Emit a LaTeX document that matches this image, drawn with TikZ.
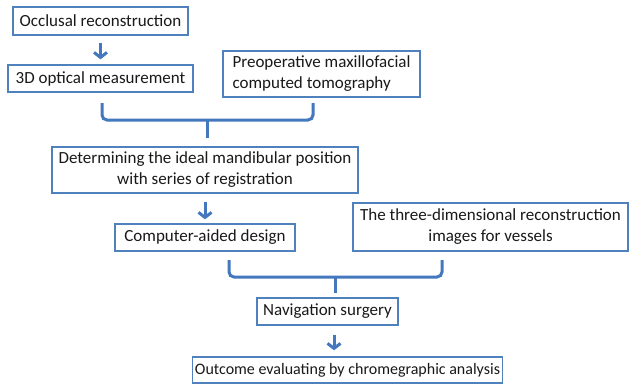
\documentclass[tikz,border=0pt]{standalone}
\usepackage{fontspec}
\setmainfont{Carlito}
\usetikzlibrary{arrows.meta}
\definecolor{boxblue}{RGB}{79,129,189}
\definecolor{arrblue}{RGB}{68,120,190}
\tikzset{
  stepbox/.style={draw=boxblue, line width=1.4pt, fill=white, inner sep=2pt,
    font=\fontsize{17}{21}\selectfont, text=black!90},
  arr/.style={draw=arrblue, line width=3pt, -{Straight Barb[length=5pt,width=13pt]}},
  brace/.style={draw=arrblue, line width=3pt, rounded corners=5pt}
}
\begin{document}
\begin{tikzpicture}[x=1pt,y=-1pt]
\useasboundingbox[fill=white] (0,0) rectangle (629,383);
\node[stepbox, minimum width=175pt, minimum height=28pt] (occl) at (100.5,21) {Occlusal reconstruction};
\node[stepbox, minimum width=185pt, minimum height=27pt] (optm) at (100.5,78.5) {3D optical measurement};
\node[stepbox, minimum width=197pt, minimum height=46pt, align=left] (preop) at (321.5,74) {Preoperative maxillofacial\\computed tomography};
\node[stepbox, minimum width=306pt, minimum height=46pt, align=center] (ideal) at (205,170) {Determining the ideal mandibular position\\with series of registration};
\node[stepbox, minimum width=180pt, minimum height=27pt] (cad) at (205,237.5) {Computer-aided design};
\node[stepbox, minimum width=275pt, minimum height=48pt, align=center] (vess) at (490.5,227) {The three-dimensional reconstruction\\images for vessels};
\node[stepbox, minimum width=141pt, minimum height=27pt] (nav) at (327.5,311.5) {Navigation surgery};
\node[stepbox, minimum width=310pt, minimum height=26pt, inner xsep=0pt,
  font=\fontsize{16}{20}\selectfont] (outc) at (347.5,370) {Outcome evaluating by chromegraphic analysis};
\coordinate (b1l) at (102,103); \coordinate (b1r) at (313,103);
\coordinate (b1m) at (207,120); \coordinate (b1e) at (207,138);
\coordinate (b2l) at (229,260); \coordinate (b2r) at (442,260);
\coordinate (b2m) at (335,277); \coordinate (b2e) at (335,293);
\draw[arr, shorten <=7pt, shorten >=5pt] (occl) -- (optm);
\draw[brace] (b1l) |- (b1m) -| (b1r);
\draw[brace] (b1m) -- (b1e);
\draw[arr, shorten <=8pt, shorten >=4pt] (ideal) -- (cad);
\draw[brace] (b2l) |- (b2m) -| (b2r);
\draw[brace] (b2m) -- (b2e);
\draw[arr, shorten <=9pt, shorten >=6pt] ([xshift=6.5pt]nav.south) -- ([xshift=6.5pt]nav.south |- outc.north);
\end{tikzpicture}
\end{document}
